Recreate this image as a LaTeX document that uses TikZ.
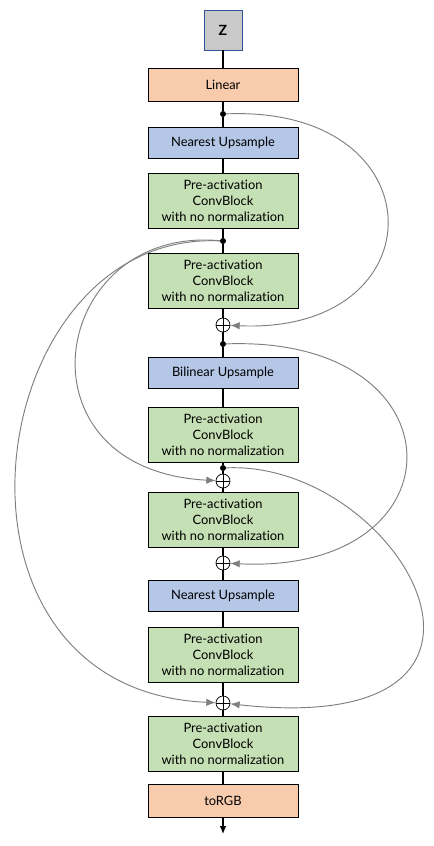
\documentclass[tikz,border=0pt]{standalone}
\usepackage{fontspec}
\setmainfont{Lato}[Ligatures=NoCommon]
\usetikzlibrary{arrows.meta, positioning, calc}

\definecolor{peach}{HTML}{F8CBAD}
\definecolor{upblue}{HTML}{B4C7E7}
\definecolor{convgreen}{HTML}{C5E0B4}
\definecolor{zgray}{HTML}{C9C9C9}
\definecolor{zborder}{HTML}{2F5597}
\definecolor{skipgray}{HTML}{7F7F7F}

\begin{document}
\begin{tikzpicture}[
    x=0.3mm, y=-0.3mm,
    font=\fontsize{11}{13.6}\selectfont,
    block/.style={
        rectangle, draw=black, line width=0.8pt,
        minimum width=45mm, align=center, inner sep=0pt
    },
    latent/.style={
        rectangle, draw=zborder, line width=0.8pt, fill=zgray,
        minimum width=11.4mm, minimum height=12mm, font=\fontsize{12}{14}\selectfont\bfseries
    },
    linear/.style={block, fill=peach, minimum height=9.9mm},
    upsample/.style={block, fill=upblue, minimum height=9.3mm},
    conv/.style={block, fill=convgreen, minimum height=16.5mm},
    dot/.style={circle, fill=black, inner sep=0pt, minimum size=1.8mm},
    add/.style={
        circle, draw=black, line width=0.6pt, inner sep=0pt, minimum size=4.2mm,
        path picture={
            \draw[line width=0.6pt] (path picture bounding box.north) -- (path picture bounding box.south)
                (path picture bounding box.west) -- (path picture bounding box.east);
        }
    },
    main/.style={draw=black, line width=1pt},
    skip/.style={draw=skipgray, line width=0.8pt, -{Latex[length=2.8mm, width=2.2mm]}}
]

\useasboundingbox (0,0) rectangle (433,846);

% -------------------------
% 1. Input and first stage
% -------------------------
\node[latent] (Z) at (223, 30) {Z};
\node[linear] (Linear) at (223, 84.5) {Linear};
\node[dot] (Dot1) at (223, 114) {};
\node[upsample] (Up1) at (223, 142.5) {Nearest Upsample};
\node[conv] (Conv1) at (223, 200.5) {Pre-activation\\ConvBlock\\with no normalization};
\node[dot] (Dot2) at (223, 241) {};
\node[conv] (Conv2) at (223, 280.5) {Pre-activation\\ConvBlock\\with no normalization};
\node[add] (Add1) at (223, 325) {};

% -------------------------
% 2. Bilinear stage
% -------------------------
\node[dot] (Dot3) at (223, 344) {};
\node[upsample] (Up2) at (223, 373) {Bilinear Upsample};
\node[conv] (Conv3) at (223, 435) {Pre-activation\\ConvBlock\\with no normalization};
\node[dot] (Dot4) at (223, 468) {};
\node[add] (Add2) at (223, 481) {};
\node[conv] (Conv4) at (223, 520) {Pre-activation\\ConvBlock\\with no normalization};
\node[add] (Add3) at (223, 563) {};

% -------------------------
% 3. Last stage and output
% -------------------------
\node[upsample] (Up3) at (223, 595.5) {Nearest Upsample};
\node[conv] (Conv5) at (223, 655) {Pre-activation\\ConvBlock\\with no normalization};
\node[add] (Add4) at (223, 703) {};
\node[conv] (Conv6) at (223, 744) {Pre-activation\\ConvBlock\\with no normalization};
\node[linear] (RGB) at (223, 801) {toRGB};
\coordinate (Out) at (223, 834);

% main path
\draw[main] (Z) -- (Linear) -- (Dot1) -- (Up1) -- (Conv1) -- (Dot2) -- (Conv2) -- (Add1)
    -- (Dot3) -- (Up2) -- (Conv3) -- (Dot4) -- (Add2) -- (Conv4) -- (Add3)
    -- (Up3) -- (Conv5) -- (Add4) -- (Conv6) -- (RGB);
\draw[main, -{Latex[length=2.4mm, width=2mm]}] (RGB) -- (Out);

% -------------------------
% SKIP CONNECTIONS
% -------------------------
% right side
\draw[skip] (Dot1) .. controls (440, 105) and (440, 335) .. (Add1);
\draw[skip] (Dot3) .. controls (465, 335) and (465, 575) .. (Add3);
\draw[skip] (Dot4) .. controls (400, 460) and (560, 740) .. (Add4);

% left side
\draw[skip] (Dot2) .. controls (50, 225) and (10, 470) .. (Add2);
\draw[skip] (Dot2) .. controls (-20, 230) and (-80, 690) .. (Add4);

\end{tikzpicture}
\end{document}
